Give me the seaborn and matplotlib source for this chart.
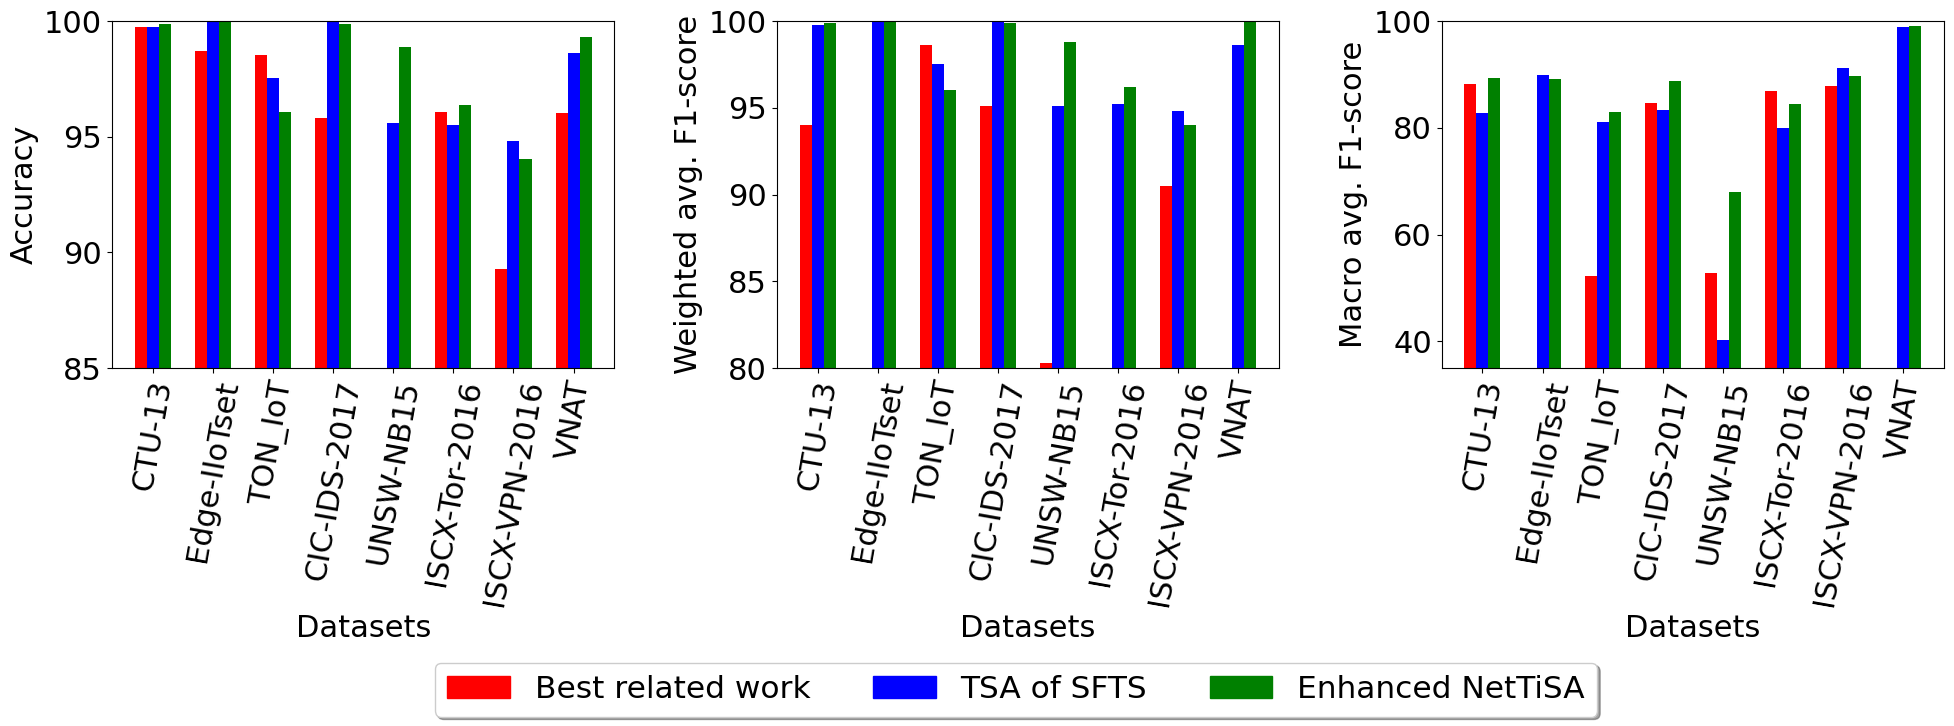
import numpy as np
import pandas as pd
import matplotlib.pyplot as plt
from matplotlib.patches import Patch
import seaborn as sns

# Dados
datasets = ["CTU-13", "Edge-IIoTset", "TON_IoT", "CIC-IDS-2017", "UNSW-NB15",
            "ISCX-Tor-2016", "ISCX-VPN-2016", "VNAT"]
methods = ["Best related work", "TSA of SFTS", "Enhanced NetTiSA"]
colors = ["red", "blue", "green"]

acc_best = [99.74, 98.71, 98.53, 95.82, np.nan, 96.08, 89.30, 96.03]
acc_tsa = [99.74, 100.0, 97.54, 100.0, 95.60, 95.52, 94.83, 98.62]
acc_net = [99.87, 100.0, 96.08, 99.87, 98.88, 96.38, 94.05, 99.31]

wf1_best = [94.02, np.nan, 98.62, 95.11, 80.30, np.nan, 90.52, np.nan]
wf1_tsa = [99.77, 100.0, 97.53, 100.0, 95.11, 95.23, 94.83, 98.62]
wf1_net = [99.89, 100.0, 96.03, 99.89, 98.79, 96.21, 94.02, 100.0]

mf1_best = [88.19, np.nan, 52.20, 84.63, 52.90, 86.90, 87.80, np.nan]
mf1_tsa = [82.76, 89.88, 81.07, 83.30, 40.20, 79.90, 91.20, 98.90]
mf1_net = [89.30, 89.13, 82.90, 88.75, 67.95, 84.40, 89.70, 99.06]

panels = [
    ("Accuracy", [acc_best, acc_tsa, acc_net], (85, 100), [85, 90, 95, 100]),
    ("Weighted avg. F1-score", [wf1_best, wf1_tsa, wf1_net], (80, 100), [80, 85, 90, 95, 100]),
    ("Macro avg. F1-score", [mf1_best, mf1_tsa, mf1_net], (35, 100), [40, 60, 80, 100]),
]


def to_long(series):
    rows = []
    for method, vals in zip(methods, series):
        for d, v in zip(datasets, vals):
            rows.append({"dataset": d, "method": method, "value": v})
    return pd.DataFrame(rows).dropna()


fig, axes = plt.subplots(1, 3, figsize=(19.54, 7.26), dpi=100)
fig.subplots_adjust(left=0.0573, right=0.9949, top=0.971, bottom=0.493, wspace=0.323)

for ax, (ylabel, series, ylim, yticks) in zip(axes, panels):
    df = to_long(series)
    sns.barplot(data=df, x="dataset", y="value", hue="method", order=datasets,
                hue_order=methods, palette=colors, saturation=1, width=0.6,
                errorbar=None, linewidth=0, legend=False, ax=ax)
    ax.set_xlim(-0.68, 7.68)
    ax.set_ylim(*ylim)
    ax.set_yticks(yticks)
    ax.set_ylabel(ylabel, fontsize=22)
    ax.set_xlabel("Datasets", fontsize=22)
    ax.tick_params(axis="x", labelrotation=80, labelsize=22)
    ax.tick_params(axis="y", labelsize=22)

handles = [Patch(color=c, label=m) for c, m in zip(colors, methods)]
fig.legend(handles=handles, loc="center", bbox_to_anchor=(0.52, 0.05), ncol=3,
           fontsize=22.5, shadow=True, fancybox=True)

plt.savefig("out.png", dpi=100)
